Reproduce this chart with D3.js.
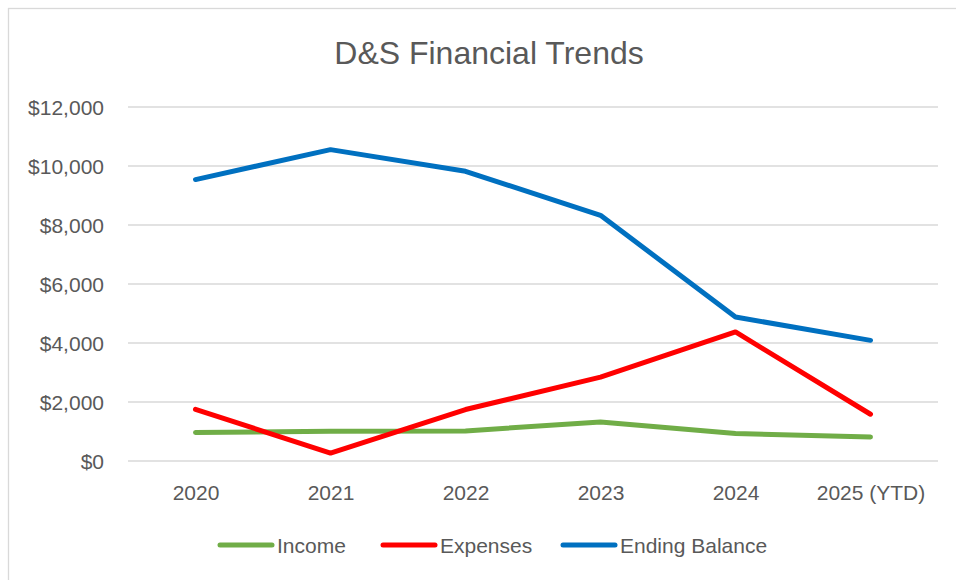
<!DOCTYPE html>
<html lang="en">
<head>
    <meta charset="UTF-8">
    <title>D&amp;S Financial Trends</title>
    <script src="https://d3js.org/d3.v7.min.js"></script>
    <style>
        body { margin: 0; background: #fff; overflow: hidden; font-family: "Liberation Sans", Arial, sans-serif; }
        .grid line { stroke: #d9d9d9; stroke-width: 1.3px; }
        .tick text { fill: #595959; }
    </style>
</head>
<body>
    <div id="chart"></div>
    <script>
        const years = ["2020", "2021", "2022", "2023", "2024", "2025 (YTD)"];
        const income = [965, 1010, 1020, 1325, 930, 815];
        const expenses = [1750, 270, 1745, 2845, 4375, 1585];
        const endingBalance = [9540, 10555, 9820, 8330, 4880, 4090];
        const yTicks = [0, 2000, 4000, 6000, 8000, 10000, 12000];

        const series = [
            { name: "Income", values: income, color: "#70ad47" },
            { name: "Expenses", values: expenses, color: "#ff0000" },
            { name: "Ending Balance", values: endingBalance, color: "#0070c0" }
        ];

        const width = 956, height = 580;
        const margin = { top: 107, right: 18, bottom: 119, left: 128 };

        const svg = d3.select("#chart").append("svg")
            .attr("width", width)
            .attr("height", height);

        // chart area border
        svg.append("rect")
            .attr("x", 8.5).attr("y", 8.5)
            .attr("width", 980).attr("height", 600)
            .attr("fill", "none")
            .attr("stroke", "#d9d9d9")
            .attr("stroke-width", 1.3);

        svg.append("text")
            .attr("x", 489)
            .attr("y", 64)
            .attr("text-anchor", "middle")
            .style("font-size", "32px")
            .style("fill", "#595959")
            .text("D&S Financial Trends");

        const x = d3.scalePoint().domain(years)
            .range([margin.left, width - margin.right]).padding(0.5);
        const y = d3.scaleLinear().domain([0, 12000])
            .range([height - margin.bottom, margin.top]);

        svg.append("g")
            .attr("class", "grid")
            .selectAll("line")
            .data(yTicks)
            .join("line")
            .attr("x1", margin.left)
            .attr("x2", width - margin.right)
            .attr("y1", d => y(d))
            .attr("y2", d => y(d));

        const yAxis = svg.append("g")
            .attr("transform", `translate(${margin.left - 24}, 0)`)
            .call(d3.axisLeft(y).tickValues(yTicks).tickSize(0).tickPadding(0)
                .tickFormat(d => "$" + d3.format(",")(d)));
        yAxis.select(".domain").remove();
        yAxis.selectAll("text").style("font-size", "21px").attr("dy", "0.36em");

        const xAxis = svg.append("g")
            .attr("transform", `translate(0, ${height - margin.bottom})`)
            .call(d3.axisBottom(x).tickSize(0).tickPadding(24));
        xAxis.select(".domain").remove();
        xAxis.selectAll("text").style("font-size", "21px");

        const line = d3.line()
            .x((d, i) => x(years[i]))
            .y(d => y(d));

        svg.selectAll(".series")
            .data(series)
            .join("path")
            .attr("class", "series")
            .attr("d", d => line(d.values))
            .attr("fill", "none")
            .attr("stroke", d => d.color)
            .attr("stroke-width", 5)
            .attr("stroke-linecap", "round")
            .attr("stroke-linejoin", "round");

        // legend
        const legendX = [218, 381, 561];
        const legend = svg.selectAll(".legend")
            .data(series)
            .join("g")
            .attr("class", "legend")
            .attr("transform", (d, i) => `translate(${legendX[i]}, 545)`);
        legend.append("line")
            .attr("x1", 2).attr("x2", 54)
            .attr("stroke", d => d.color)
            .attr("stroke-width", 5)
            .attr("stroke-linecap", "round");
        legend.append("text")
            .attr("x", 59)
            .attr("dy", "0.36em")
            .style("font-size", "21px")
            .style("fill", "#595959")
            .text(d => d.name);
    </script>
</body>
</html>
